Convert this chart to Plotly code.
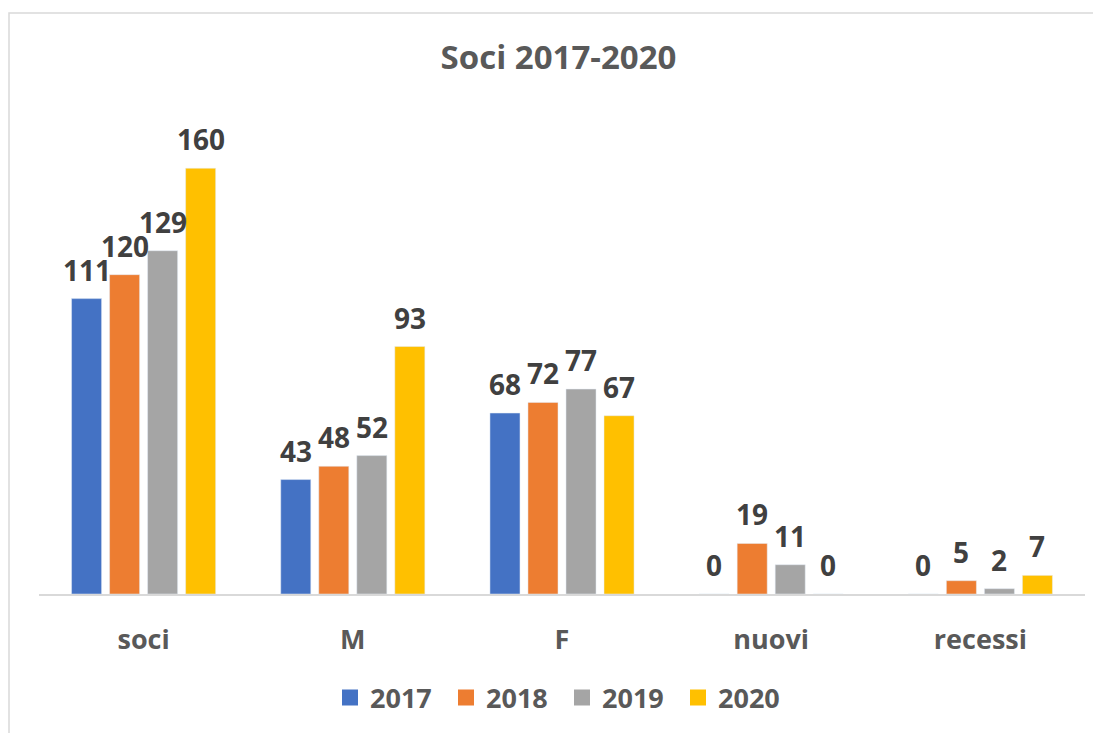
import plotly.graph_objects as go

categories = ["soci", "M", "F", "nuovi", "recessi"]
years = ["2017", "2018", "2019", "2020"]
v2017 = [111, 43, 68, 0, 0]
v2018 = [120, 48, 72, 19, 5]
v2019 = [129, 52, 77, 11, 2]
v2020 = [160, 93, 67, 0, 7]
series = [v2017, v2018, v2019, v2020]
colors = ["#4472C4", "#ED7D31", "#A5A5A5", "#FFC000"]

FONT = "Open Sans"
W, H = 1101, 733
# page has an 8px body margin; figure coords = page coords - 8
L, R, T, B = 31, 24, 107, 147
BARGAP = 0.273
BARGROUPGAP = 0.21

fig = go.Figure()
for name, vals, col in zip(years, series, colors):
    fig.add_trace(go.Bar(
        x=categories, y=vals, name=name, marker_color=col,
        showlegend=False, cliponaxis=False,
    ))
for name, col in zip(years, colors):
    fig.add_trace(go.Scatter(
        x=[None], y=[None], mode="markers", name=name,
        marker=dict(symbol="square", size=16, color=col),
    ))

# data labels placed at each bar's top (category index + group slot offset)
slot = (1 - BARGAP) / len(years)
annotations = []
for i, vals in enumerate(series):
    for j, v in enumerate(vals):
        annotations.append(dict(
            x=j + (i - (len(years) - 1) / 2) * slot, y=v, xref="x", yref="y",
            text=str(v), showarrow=False, xanchor="center", yanchor="bottom", yshift=8,
            font=dict(family=FONT, size=28, color="#404040", weight="bold"),
        ))

pw = W - L - R
ph = H - T - B
fig.add_shape(type="rect", xref="paper", yref="paper",
              x0=(1 - L) / pw, x1=(W + 30 - L) / pw,
              y0=-(H + 30 - (H - B)) / ph, y1=(H - B - 5) / ph,
              line=dict(color="#D9D9D9", width=1.5), fillcolor="rgba(0,0,0,0)", layer="below")

fig.update_layout(
    width=W, height=H,
    margin=dict(l=L, r=R, t=T, b=B, autoexpand=False),
    paper_bgcolor="white", plot_bgcolor="white",
    barmode="group", bargap=BARGAP, bargroupgap=BARGROUPGAP,
    annotations=annotations,
    title=dict(text="Soci 2017-2020", x=0.5, xanchor="center", y=1 - 49 / H, yanchor="middle",
               font=dict(family=FONT, size=33, color="#595959", weight="bold")),
    xaxis=dict(showline=True, linecolor="#D9D9D9", linewidth=1.5, ticks="",
               tickfont=dict(family=FONT, size=27, color="#595959", weight="bold"),
               ticklabelstandoff=21),
    yaxis=dict(range=[0, 180], visible=False, showgrid=False),
    legend=dict(orientation="h", x=0.5, xanchor="center", y=-(690 - (H - B)) / ph, yanchor="middle",
                font=dict(family=FONT, size=27, color="#595959", weight="bold"),
                entrywidth=71, itemsizing="trace"),
    showlegend=True,
)

fig.write_html("out.html")
